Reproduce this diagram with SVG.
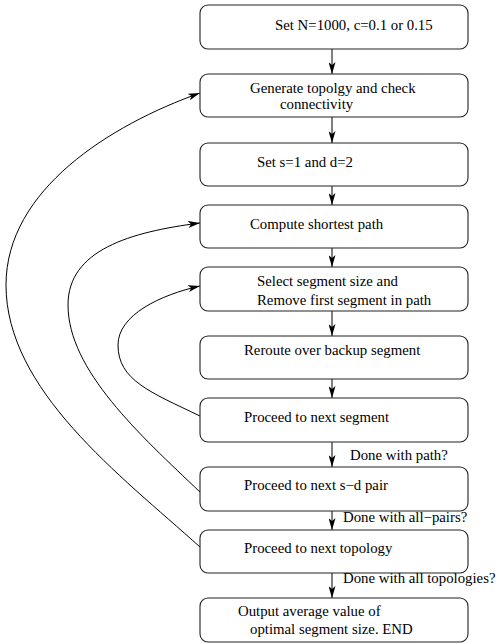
<svg xmlns="http://www.w3.org/2000/svg" width="497" height="643" viewBox="0 0 497 643">
<style>
.box{fill:#fff;stroke:#222;stroke-width:1.1}
.t{font-family:"Liberation Serif","Times New Roman",serif;font-size:14.8px;fill:#000}
.c{fill:none;stroke:#000;stroke-width:1}
</style>
<defs>
<marker id="ah" markerWidth="13" markerHeight="7" refX="12" refY="3.5" orient="auto" markerUnits="userSpaceOnUse">
<path d="M0,0 L12,3.5 L0,7 L3,3.5 z" fill="#000"/>
</marker>
</defs>
<rect width="497" height="643" fill="#fff"/>
<g id="connectors">
<line class="c" x1="332" y1="49" x2="332" y2="74" marker-end="url(#ah)"/>
<line class="c" x1="332" y1="117" x2="332" y2="143" marker-end="url(#ah)"/>
<line class="c" x1="332" y1="186" x2="332" y2="205" marker-end="url(#ah)"/>
<line class="c" x1="332" y1="248" x2="332" y2="267" marker-end="url(#ah)"/>
<line class="c" x1="332" y1="311" x2="332" y2="336" marker-end="url(#ah)"/>
<line class="c" x1="332" y1="379" x2="332" y2="398" marker-end="url(#ah)"/>
<line class="c" x1="332" y1="442" x2="332" y2="467" marker-end="url(#ah)"/>
<line class="c" x1="332" y1="511" x2="332" y2="530" marker-end="url(#ah)"/>
<line class="c" x1="332" y1="573" x2="332" y2="598" marker-end="url(#ah)"/>
<path class="c" d="M200,547 C120,475 6,390 6,285 C6,190 110,125 200,93" marker-end="url(#ah)"/>
<path class="c" d="M200,492 C140,435 68,370 68,305 C68,250 130,232 200,223" marker-end="url(#ah)"/>
<path class="c" d="M200,416 C150,392 118,380 118,345 C118,315 160,295 200,286" marker-end="url(#ah)"/>
<text class="t" x="350" y="460">Done with path?</text>
<text class="t" x="343" y="522">Done with all−pairs?</text>
<text class="t" x="343" y="583">Done with all topologies?</text>
</g>
<g id="n1"><rect class="box" x="200" y="5" width="268" height="44" rx="8"/><text class="t" x="275" y="30">Set N=1000, c=0.1 or 0.15</text></g>
<g id="n2"><rect class="box" x="200" y="74" width="268" height="43" rx="8"/><text class="t" x="250" y="93">Generate topolgy and check</text><text class="t" x="280" y="109">connectivity</text></g>
<g id="n3"><rect class="box" x="200" y="143" width="268" height="43" rx="8"/><text class="t" x="257" y="167">Set s=1 and d=2</text></g>
<g id="n4"><rect class="box" x="200" y="205" width="268" height="43" rx="8"/><text class="t" x="250" y="229">Compute shortest path</text></g>
<g id="n5"><rect class="box" x="200" y="267" width="268" height="44" rx="8"/><text class="t" x="257" y="286">Select segment size and</text><text class="t" x="257" y="305">Remove first segment in path</text></g>
<g id="n6"><rect class="box" x="200" y="336" width="268" height="43" rx="8"/><text class="t" x="244" y="355">Reroute over backup segment</text></g>
<g id="n7"><rect class="box" x="200" y="398" width="268" height="44" rx="8"/><text class="t" x="244" y="422">Proceed to next segment</text></g>
<g id="n8"><rect class="box" x="200" y="467" width="268" height="44" rx="8"/><text class="t" x="244" y="490">Proceed to next s−d pair</text></g>
<g id="n9"><rect class="box" x="200" y="530" width="268" height="43" rx="8"/><text class="t" x="244" y="553">Proceed to next topology</text></g>
<g id="n10"><rect class="box" x="200" y="598" width="268" height="44" rx="8"/><text class="t" x="238" y="616">Output average value of</text><text class="t" x="250" y="634">optimal segment size. END</text></g>
</svg>
